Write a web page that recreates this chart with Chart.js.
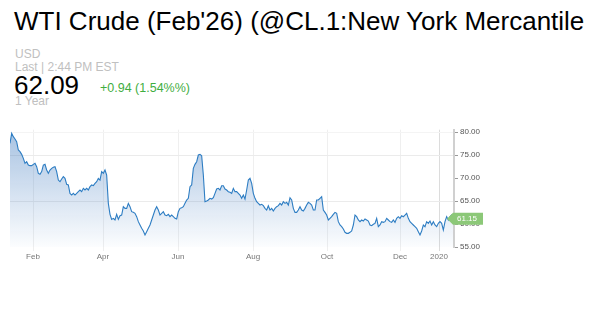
<!DOCTYPE html>
<html>
<head>
<meta charset="utf-8">
<script src="https://cdn.jsdelivr.net/npm/chart.js@4/dist/chart.umd.min.js"></script>
<style>
  body { margin: 0; width: 591px; height: 333px; background: #fff; overflow: hidden; font-family: Arial, "Liberation Sans", sans-serif; }
  .txt { position: absolute; white-space: nowrap; }
  #title { left: 14px; top: 6px; font-size: 26px; color: #000; }
  #cur { left: 15px; top: 47px; font-size: 12px; color: #c0c0c0; }
  #last { left: 15px; top: 60px; font-size: 12px; color: #c0c0c0; }
  #price { left: 14px; top: 70px; font-size: 26px; color: #000; }
  #change { left: 100px; top: 81px; font-size: 12.5px; color: #3fae3f; }
  #period { left: 15px; top: 94px; font-size: 12px; color: #c0c0c0; }
  #wrap { position: absolute; left: 0; top: 120px; width: 500px; height: 150px; }
</style>
</head>
<body>
<div class="txt" id="title">WTI Crude (Feb'26) (@CL.1:New York Mercantile</div>
<div class="txt" id="cur">USD</div>
<div class="txt" id="last">Last | 2:44 PM EST</div>
<div class="txt" id="price">62.09</div>
<div class="txt" id="change">+0.94 (1.54%%)</div>
<div class="txt" id="period">1 Year</div>
<div id="wrap"><canvas id="chart"></canvas></div>
<script>
const yTicks = [55, 60, 65, 70, 75, 80];
const monthLabels = ['Feb', 'Apr', 'Jun', 'Aug', 'Oct', 'Dec', '2020'];
const monthStarts = [13.8, 55.8, 100.8, 145.8, 190.2, 234, 257.4];
const lastPrice = 61.15;

// one value per session
const prices = [
  77.53, 79.71, 78.98, 78.48, 77.90, 76.09, 75.72, 75.14, 74.27, 73.19,
  73.55, 72.82, 72.68, 72.68, 72.97, 73.19, 72.46, 71.01, 70.80, 71.38,
  72.82, 72.97, 71.74, 71.01, 71.74, 72.10, 72.32, 72.46, 71.38, 69.56,
  69.20, 69.78, 70.29, 69.93, 68.62, 68.48, 66.66, 66.30, 66.66, 66.30,
  66.66, 67.03, 67.39, 67.03, 67.75, 67.39,
  67.75, 67.39, 68.11, 68.48, 68.33, 68.84, 69.20, 69.93, 69.56, 71.38,
  71.01, 71.74, 70.65, 64.49, 62.10, 61.01, 61.23, 60.87, 62.10, 61.01,
  61.81, 61.95, 63.77, 63.40, 63.40, 64.49, 63.77, 62.68, 62.53, 62.32,
  61.59, 60.51, 59.78, 59.06, 58.48, 57.61, 58.33, 59.06, 59.78, 60.87,
  61.95, 63.04, 63.77, 63.04, 61.95,
  62.32, 62.68, 61.95, 61.81, 62.10, 61.59, 61.95, 61.59, 61.23, 61.09,
  62.68, 63.40, 63.55, 63.77, 64.49, 65.22, 65.58, 68.11, 68.48, 72.10,
  72.97, 73.55, 75.00, 75.14, 74.85, 70.65, 64.85, 65.00, 65.22, 65.58,
  65.43, 65.72, 66.66, 67.61, 67.75, 67.39, 68.33, 68.33, 67.61, 67.39,
  67.03, 66.88, 66.66, 67.75, 67.03,
  67.03, 66.66, 66.30, 65.58, 66.30, 65.43, 67.39, 69.56, 69.93, 68.84,
  66.66, 65.58, 64.85, 64.49, 64.13, 64.27, 63.98, 63.40, 63.04, 63.98,
  63.04, 63.40, 62.82, 63.40, 63.77, 63.98, 64.49, 64.13, 64.85, 64.49,
  64.71, 64.13, 65.72, 65.22, 63.40, 62.53, 62.53, 63.04, 63.77, 63.04,
  62.82, 63.40, 64.13, 64.71, 64.49,
  64.13, 63.04, 63.04, 65.22, 65.22, 65.58, 65.94, 63.04, 62.53, 61.95,
  60.87, 61.23, 61.59, 62.10, 62.53, 62.32, 60.51, 59.78, 59.42, 58.91,
  58.19, 57.97, 57.97, 58.19, 58.48, 59.78, 61.95, 61.59, 60.87, 60.51,
  60.87, 60.65, 61.09, 60.87, 60.65, 59.78, 59.64, 59.93, 60.14, 61.23,
  59.42, 59.78, 60.51, 60.36, 60.51,
  61.23, 60.87, 60.51, 60.36, 60.87, 60.36, 61.23, 61.59, 61.23, 61.81,
  61.59, 61.95, 62.32, 61.23, 60.51, 60.14, 59.78, 59.42, 59.06, 58.33,
  57.61, 58.48, 59.78, 59.42, 60.51, 60.14, 60.65, 59.78, 60.51, 59.78,
  59.42, 60.14, 60.51, 60.14, 58.69, 60.51, 61.59, 60.87, 61.59, 61.95,
  61.15
];

const lastTag = {
  id: 'lastTag',
  afterDraw(chart) {
    const ctx = chart.ctx;
    const y = chart.scales.y.getPixelForValue(lastPrice);
    const x = chart.chartArea.right - 7;
    ctx.save();
    ctx.fillStyle = '#8cc878';
    ctx.beginPath();
    ctx.moveTo(x, y);
    ctx.lineTo(x + 6, y - 6);
    ctx.lineTo(x + 36, y - 6);
    ctx.lineTo(x + 36, y + 6);
    ctx.lineTo(x + 6, y + 6);
    ctx.closePath();
    ctx.fill();
    ctx.fillStyle = '#fff';
    ctx.font = '8px Arial, "Liberation Sans", sans-serif';
    ctx.textBaseline = 'middle';
    ctx.fillText(lastPrice.toFixed(2), x + 10, y + 0.5);
    ctx.restore();
  }
};

new Chart(document.getElementById('chart'), {
  type: 'line',
  data: {
    datasets: [{
      data: prices.map((p, i) => ({ x: i, y: p })),
      borderColor: 'rgb(45, 125, 195)',
      borderWidth: 1.1,
      pointRadius: 0,
      tension: 0,
      fill: 'start',
      backgroundColor(context) {
        const area = context.chart.chartArea;
        if (!area) return 'rgba(60,120,190,0.2)';
        const g = context.chart.ctx.createLinearGradient(0, area.top, 0, area.bottom);
        g.addColorStop(0, 'rgba(60, 120, 190, 0.45)');
        g.addColorStop(1, 'rgba(60, 120, 190, 0.02)');
        return g;
      }
    }]
  },
  options: {
    responsive: true,
    maintainAspectRatio: false,
    animation: false,
    layout: { padding: { left: 10, top: 9.7, right: 0, bottom: 0 } },
    plugins: { legend: { display: false }, tooltip: { enabled: false } },
    scales: {
      x: {
        type: 'linear',
        min: 0,
        max: 266.4,
        afterBuildTicks(scale) { scale.ticks = monthStarts.map(v => ({ value: v })); },
        afterFit(scale) { scale.height = 23; },
        border: { display: false },
        grid: {
          color: (c) => c.index === monthStarts.length - 1 ? '#dcdcdc' : '#efefef',
          tickLength: 4
        },
        ticks: {
          autoSkip: false,
          maxRotation: 0,
          padding: 1,
          color: '#777',
          font: { size: 8, family: 'Arial, "Liberation Sans", sans-serif' },
          callback: (v, i) => monthLabels[i]
        }
      },
      y: {
        position: 'right',
        min: 55,
        max: 80.5,
        afterBuildTicks(scale) { scale.ticks = yTicks.map(v => ({ value: v })); },
        afterFit(scale) { scale.width = 46; },
        border: { display: true, color: '#d0d0d0', width: 2 },
        grid: {
          color: (c) => {
            const v = c.tick ? c.tick.value : null;
            if (v === 75 || v === 65) return '#ebebeb';
            if (v === 80) return '#f4f4f4';
            return 'rgba(0,0,0,0)';
          },
          tickColor: '#999',
          tickLength: 4
        },
        ticks: {
          padding: 2,
          color: '#555',
          font: { size: 8, family: 'Arial, "Liberation Sans", sans-serif' },
          callback: (v) => v.toFixed(2)
        }
      }
    }
  },
  plugins: [lastTag]
});
</script>
</body>
</html>
